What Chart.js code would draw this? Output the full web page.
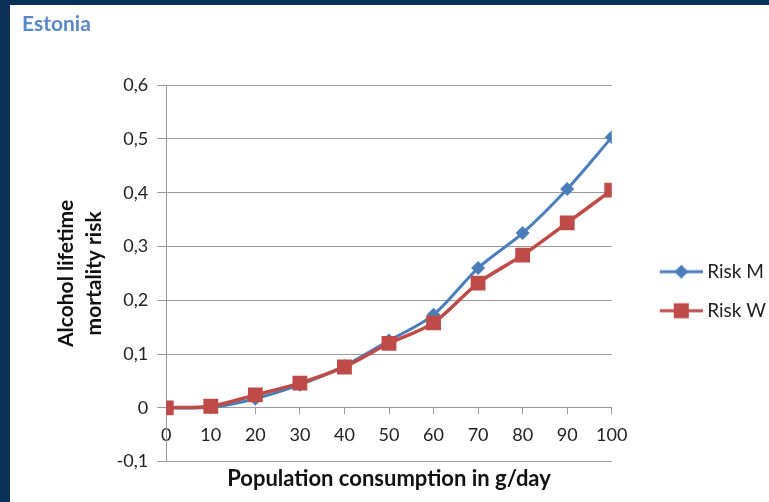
<!DOCTYPE html>
<html>
<head>
<meta charset="utf-8">
<script src="https://cdn.jsdelivr.net/npm/chart.js@4/dist/chart.umd.min.js"></script>
<style>
    html, body { margin: 0; padding: 0; width: 769px; height: 502px; overflow: hidden; background: #0b3158; }
    #wrap { position: absolute; left: 10px; top: 5px; width: 759px; height: 497px; background: #fff; }
</style>
</head>
<body>
<div id="wrap"><canvas id="riskChart" width="759" height="497"></canvas></div>
<script>
// values
const consumption = [0, 10, 20, 30, 40, 50, 60, 70, 80, 90, 100];
const riskM = [0, 0.001, 0.017, 0.043, 0.078, 0.125, 0.173, 0.26, 0.325, 0.407, 0.503];
const riskW = [0, 0.003, 0.024, 0.046, 0.076, 0.12, 0.158, 0.232, 0.284, 0.344, 0.405];
const seriesNames = ['Risk M', 'Risk W'];

const blue = '#4a7ebb';
const red = '#be4b48';
const FONT = 'Lato, "Open Sans", sans-serif';

// legend swatch: line with marker, shifted right inside a wider transparent canvas
function legendIcon(color, shape) {
    const c = document.createElement('canvas');
    c.width = 76;
    c.height = 18;
    const g = c.getContext('2d');
    g.strokeStyle = color;
    g.fillStyle = color;
    g.lineWidth = 3;
    g.beginPath();
    g.moveTo(33, 9);
    g.lineTo(76, 9);
    g.stroke();
    g.beginPath();
    if (shape === 'diamond') {
        g.moveTo(54.5, 2); g.lineTo(61.5, 9); g.lineTo(54.5, 16); g.lineTo(47.5, 9);
    } else {
        g.rect(47, 1.5, 15, 15);
    }
    g.fill();
    return c;
}

function points(values) {
    return consumption.map((x, i) => ({ x: x, y: values[i] }));
}

const ctx = document.getElementById('riskChart').getContext('2d');
new Chart(ctx, {
    type: 'line',
    data: {
        datasets: [{
            label: seriesNames[0],
            data: points(riskM),
            borderColor: blue,
            backgroundColor: blue,
            borderWidth: 3,
            pointStyle: 'rectRot',
            pointRadius: 7,
            pointBorderWidth: 0,
            tension: 0.3,
            order: 1,
            legendIcon: legendIcon(blue, 'diamond')
        }, {
            label: seriesNames[1],
            data: points(riskW),
            borderColor: red,
            backgroundColor: red,
            borderWidth: 3.5,
            pointStyle: 'rect',
            pointRadius: 10.5,
            pointBorderWidth: 0,
            tension: 0.3,
            order: 0,
            legendIcon: legendIcon(red, 'square')
        }]
    },
    options: {
        responsive: false,
        animation: false,
        layout: {
            padding: { top: 0, left: 12, right: -7, bottom: 0 }
        },
        plugins: {
            tooltip: { enabled: false },
            title: {
                display: true,
                text: 'Estonia',
                align: 'start',
                color: '#5a89c6',
                font: { family: FONT, size: 21, weight: 'bold' },
                padding: { top: 7, bottom: 48 }
            },
            subtitle: {
                display: true,
                position: 'bottom',
                fullSize: false,
                text: 'Population consumption in g/day',
                color: '#111',
                font: { family: FONT, size: 22, weight: 'bold' },
                padding: { top: 4, bottom: 10 }
            },
            legend: {
                position: 'right',
                title: { display: true, text: '', font: { size: 12 }, padding: { top: 30, bottom: 31 } },
                labels: {
                    usePointStyle: true,
                    pointStyleWidth: 66,
                    color: '#222',
                    font: { family: FONT, size: 19 },
                    padding: 20,
                    generateLabels: chart => chart.data.datasets.map((ds, i) => ({
                        text: ds.label,
                        pointStyle: ds.legendIcon,
                        fillStyle: ds.borderColor,
                        strokeStyle: ds.borderColor,
                        lineWidth: 0,
                        fontColor: '#222',
                        hidden: false,
                        datasetIndex: i
                    }))
                }
            }
        },
        scales: {
            x: {
                type: 'linear',
                position: { y: 0 },
                min: 0,
                max: 100,
                ticks: {
                    stepSize: 10,
                    color: '#222',
                    font: { family: FONT, size: 18 },
                    padding: 11,
                    maxRotation: 0
                },
                grid: { drawOnChartArea: false, drawTicks: true, tickLength: 6, color: '#9a9a9a' },
                border: { display: true, color: '#9a9a9a', width: 1 }
            },
            y: {
                min: -0.1,
                max: 0.6,
                ticks: {
                    stepSize: 0.1,
                    color: '#222',
                    font: { family: FONT, size: 18 },
                    padding: 9,
                    callback: v => {
                        const r = Math.round(v * 10) / 10;
                        return r === 0 ? '0' : r.toFixed(1).replace('.', ',');
                    }
                },
                grid: { color: '#9a9a9a', lineWidth: 1, tickLength: 9 },
                border: { display: true, color: '#9a9a9a', width: 1 },
                title: {
                    display: true,
                    text: ['Alcohol lifetime', 'mortality risk'],
                    color: '#111',
                    font: { family: FONT, size: 21, weight: 'bold', lineHeight: 1.3 },
                    padding: { top: 31, bottom: 0 }
                }
            }
        }
    }
});
</script>
</body>
</html>
